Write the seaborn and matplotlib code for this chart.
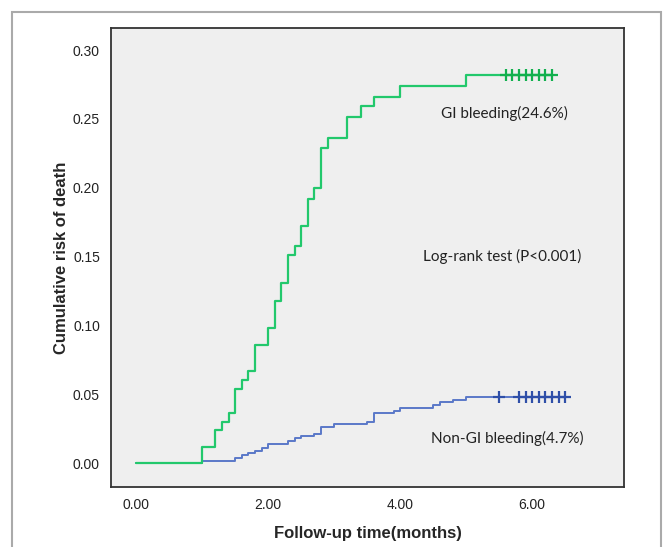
import matplotlib.pyplot as plt
import matplotlib.patches as mpatches
import pandas as pd
import seaborn as sns

# step curves (time in months, cumulative risk after the step)
gi_times = [0, 1.0, 1.2, 1.3, 1.4, 1.5, 1.6, 1.7, 1.8, 2.0, 2.1, 2.2, 2.3, 2.4,
            2.5, 2.6, 2.7, 2.8, 2.9, 3.2, 3.4, 3.6, 4.0, 5.0, 6.3]
gi_risk = [0, 0.012, 0.024, 0.030, 0.036, 0.054, 0.060, 0.067, 0.086, 0.098,
           0.118, 0.131, 0.151, 0.158, 0.172, 0.192, 0.200, 0.229, 0.236, 0.251,
           0.259, 0.266, 0.274, 0.282, 0.282]
gi_censor = [5.6, 5.7, 5.8, 5.9, 6.0, 6.1, 6.2, 6.3]

non_times = [0, 1.0, 1.5, 1.6, 1.7, 1.8, 1.9, 2.0, 2.3, 2.4, 2.5, 2.7, 2.8, 3.0,
             3.5, 3.6, 3.9, 4.0, 4.5, 4.6, 4.8, 5.0, 6.5]
non_risk = [0, 0.0017, 0.0036, 0.0055, 0.0072, 0.009, 0.011, 0.014, 0.016,
            0.018, 0.020, 0.021, 0.026, 0.028, 0.030, 0.036, 0.038, 0.040,
            0.042, 0.044, 0.046, 0.048, 0.048]
non_censor = [5.5, 5.8, 5.9, 6.0, 6.1, 6.2, 6.3, 6.4, 6.5]

x_ticks = [0, 2, 4, 6]
y_ticks = [0.00, 0.05, 0.10, 0.15, 0.20, 0.25, 0.30]

GREEN = "#22c86c"
GREEN_DARK = "#12b04e"
BLUE = "#5a78c8"
BLUE_DARK = "#2f4fa8"

sns.set_style("white")
plt.rcParams["font.family"] = ["Liberation Sans", "DejaVu Sans"]

gi = pd.DataFrame({"time": gi_times, "risk": gi_risk})
non = pd.DataFrame({"time": non_times, "risk": non_risk})
gi_c = pd.DataFrame({"time": gi_censor, "risk": [gi_risk[-1]] * len(gi_censor)})
non_c = pd.DataFrame({"time": non_censor, "risk": [non_risk[-1]] * len(non_censor)})

fig = plt.figure(figsize=(6.63, 5.47), dpi=100)
ax = fig.add_axes([0.1674, 0.1097, 0.7738, 0.8391])
ax.set_facecolor("#efefef")

sns.lineplot(data=non, x="time", y="risk", ax=ax, color=BLUE, lw=1.4,
             drawstyle="steps-post", estimator=None)
sns.lineplot(data=gi, x="time", y="risk", ax=ax, color=GREEN, lw=1.6,
             drawstyle="steps-post", estimator=None)
sns.scatterplot(data=non_c, x="time", y="risk", ax=ax, marker="+", s=70,
                color=BLUE_DARK, linewidth=1.6, zorder=4)
sns.scatterplot(data=gi_c, x="time", y="risk", ax=ax, marker="+", s=70,
                color=GREEN_DARK, linewidth=1.6, zorder=4)

ax.set_xlim(-0.38, 7.39)
ax.set_ylim(-0.0174, 0.316)
ax.set_xticks(x_ticks)
ax.set_xticklabels([f"{v:.2f}" for v in x_ticks])
ax.set_yticks(y_ticks)
ax.set_yticklabels([f"{v:.2f}" for v in y_ticks])
ax.tick_params(axis="both", direction="out", length=6, width=1.3,
               color="#333333", labelsize=10, labelcolor="#222222", pad=2)

for side in ["left", "right", "top", "bottom"]:
    ax.spines[side].set_color("#333333")
    ax.spines[side].set_linewidth(1.3)

ax.set_xlabel("Follow-up time(months)", fontsize=12, fontweight="bold", labelpad=10)
ax.set_ylabel("Cumulative risk of death", fontsize=12, fontweight="bold", labelpad=3)

note_font = ["Lato", "DejaVu Sans"]
ax.text(5.58, 0.254, "GI bleeding(24.6%)", fontsize=11, ha="center",
        va="center", family=note_font, color="#222222")
ax.text(5.54, 0.150, "Log-rank test (P<0.001)", fontsize=11, ha="center",
        va="center", family=note_font, color="#222222")
ax.text(5.62, 0.018, "Non-GI bleeding(4.7%)", fontsize=11, ha="center",
        va="center", family=note_font, color="#222222")

# grey outer frame from the original export
frame = mpatches.Rectangle((12 / 663, -0.05), 649 / 663, 1 - 12 / 547 + 0.05,
                           transform=fig.transFigure, fill=False,
                           edgecolor="#aaaaaa", lw=1.5, clip_on=False)
fig.patches.append(frame)

fig.savefig("out.png", dpi=100)
plt.close(fig)
